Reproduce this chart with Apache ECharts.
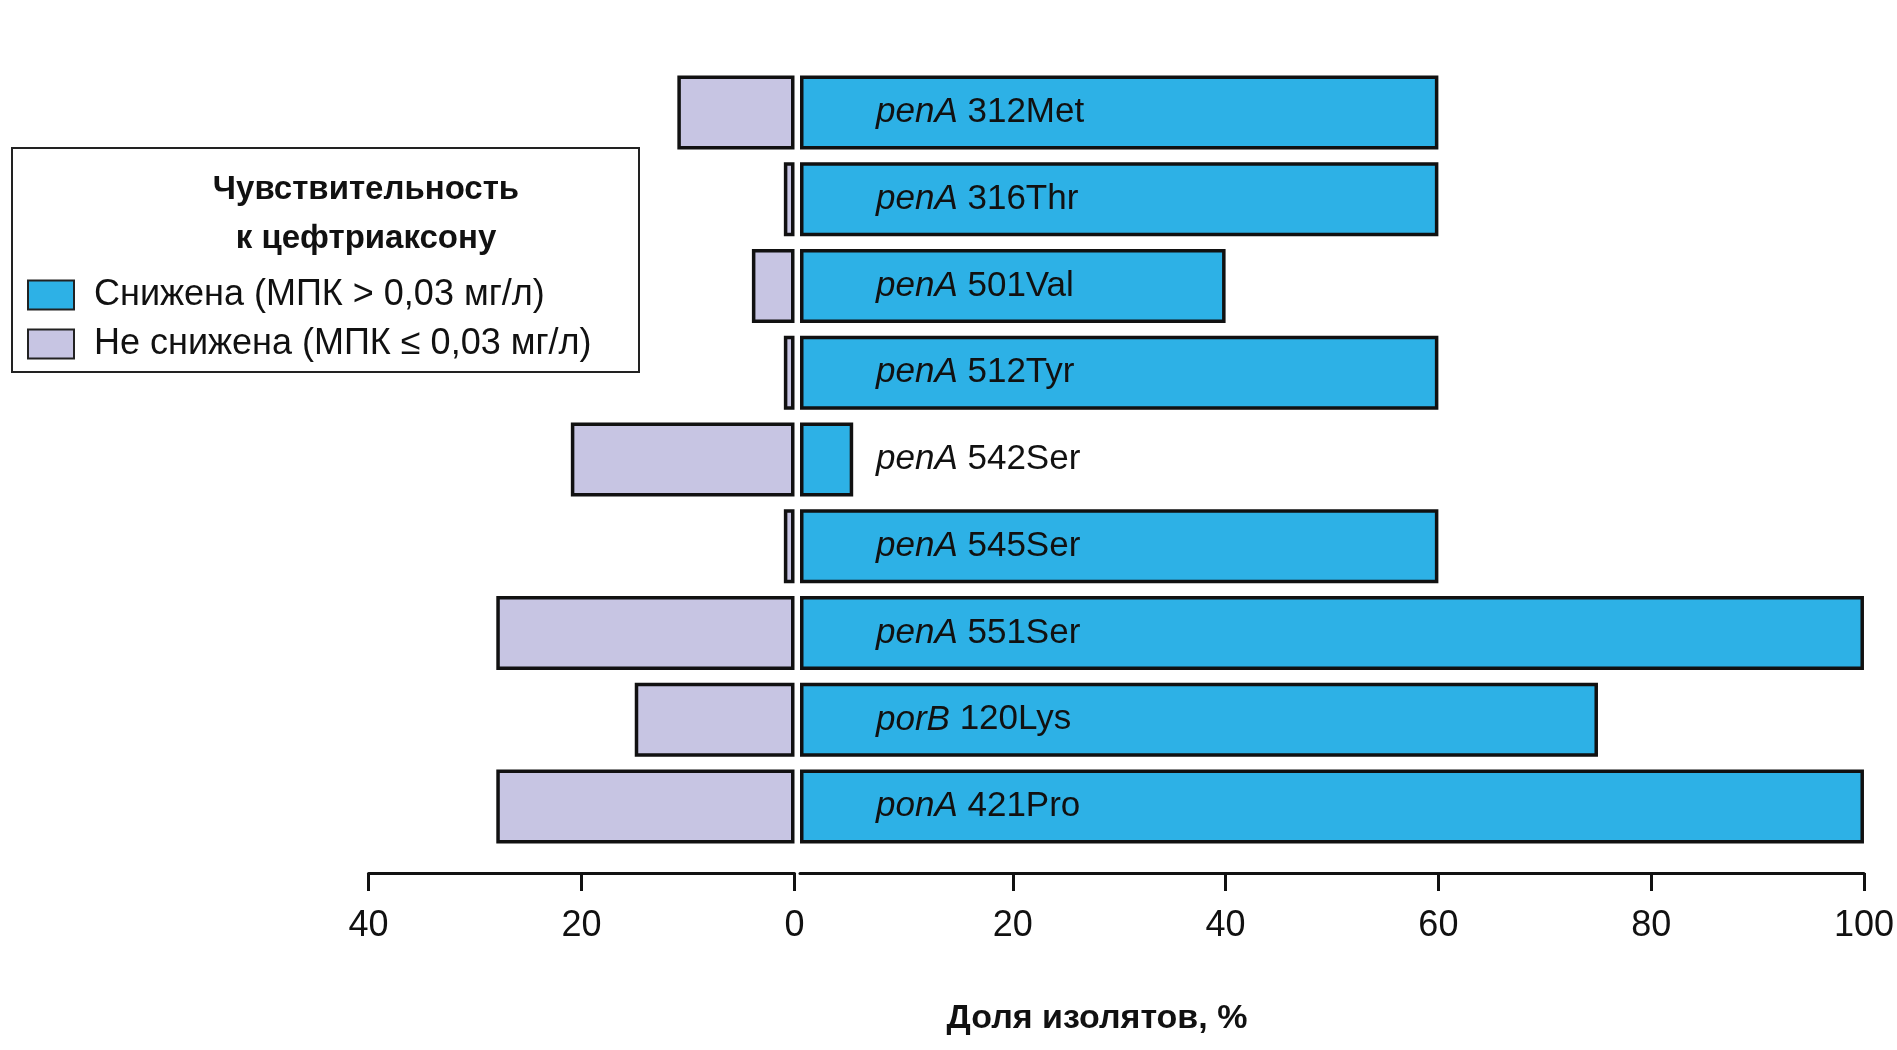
<!DOCTYPE html>
<html>
<head>
<meta charset="utf-8">
<script src="https://cdn.jsdelivr.net/npm/echarts@6/dist/echarts.min.js"></script>
<style>
html,body{margin:0;padding:0;background:#fff;}
#chart{width:1897px;height:1050px;}
</style>
</head>
<body>
<div id="chart"></div>
<script>
var genes = ['penA','penA','penA','penA','penA','penA','penA','porB','ponA'];
var mutations = ['312Met','316Thr','501Val','512Tyr','542Ser','545Ser','551Ser','120Lys','421Pro'];
var reduced = [60, 60, 40, 60, 5, 60, 100, 75, 100];
var notReduced = [11, 1, 4, 1, 21, 1, 28, 15, 28];
var leftTicks = ['40','20','0'];
var rightTicks = ['0','20','40','60','80','100'];

var categories = genes.map(function(g, i){ return g + ' ' + mutations[i]; });
var nameReduced = 'Снижена (МПК > 0,03 мг/л)';
var nameNot = 'Не снижена (МПК ≤ 0,03 мг/л)';
var legendTitle = ['Чувствительность', 'к цефтриаксону'];
var axisTitle = 'Доля изолятов, %';

var FONT = '"Liberation Sans", Arial, sans-serif';
var BLUE = '#2db1e6';
var GREY = '#c7c5e3';
var INK = '#111';

var chart = echarts.init(document.getElementById('chart'), null, {renderer:'canvas'});

function xAxisCommon(max, inverse) {
  return {
    type: 'value', min: 0, max: max, interval: 20, inverse: inverse,
    position: 'bottom', offset: 23,
    axisLine: {show: true, lineStyle: {color: INK, width: 3}},
    axisTick: {show: true, length: 18, lineStyle: {color: INK, width: 3}},
    splitLine: {show: false},
    axisLabel: {color: INK, fontSize: 36, fontFamily: FONT, margin: 35}
  };
}

var xl = xAxisCommon(40, true); xl.gridIndex = 0;
xl.axisLabel.formatter = function(v){ return leftTicks[leftTicks.indexOf(String(v))] || ''; };
var xr = xAxisCommon(100, false); xr.gridIndex = 1;
xr.axisLabel.showMinLabel = false;
xr.axisLabel.formatter = function(v){ return rightTicks[rightTicks.indexOf(String(v))] || ''; };

function yAxisCommon(idx) {
  return {
    type: 'category', gridIndex: idx, data: categories, inverse: true,
    axisLine: {show: false}, axisTick: {show: false}, axisLabel: {show: false}, splitLine: {show: false}
  };
}

var option = {
  backgroundColor: '#fff',
  animation: false,
  grid: [
    {left: 368.5, right: 1102.5, top: 69, bottom: 200, containLabel: false},
    {left: 800, right: 30.5, top: 69, bottom: 200, containLabel: false}
  ],
  xAxis: [xl, xr],
  yAxis: [yAxisCommon(0), yAxisCommon(1)],
  legend: {
    orient: 'vertical', left: 22, top: 272,
    itemWidth: 46, itemHeight: 29, itemGap: 13,
    icon: 'rect', selectedMode: false,
    data: [nameReduced, nameNot],
    itemStyle: {borderColor: '#222', borderWidth: 2},
    textStyle: {fontSize: 36, fontFamily: FONT, color: INK, padding: [0,0,0,15]}
  },
  graphic: [
    {type: 'rect', shape: {x: 12, y: 148, width: 627, height: 224},
     style: {fill: 'none', stroke: '#222', lineWidth: 2}, z: 1},
    {type: 'text', x: 366, y: 190, style: {text: legendTitle[0], textAlign: 'center', textVerticalAlign: 'middle',
      fontSize: 33, fontWeight: 'bold', fontFamily: FONT, fill: INK}},
    {type: 'text', x: 366, y: 239, style: {text: legendTitle[1], textAlign: 'center', textVerticalAlign: 'middle',
      fontSize: 33, fontWeight: 'bold', fontFamily: FONT, fill: INK}},
    {type: 'text', x: 1097, y: 1019, style: {text: axisTitle, textAlign: 'center', textVerticalAlign: 'middle',
      fontSize: 34, fontWeight: 'bold', fontFamily: FONT, fill: INK}}
  ],
  series: [
    {
      name: nameNot, type: 'bar', xAxisIndex: 0, yAxisIndex: 0,
      data: notReduced, barWidth: 74,
      itemStyle: {color: GREY, borderColor: INK, borderWidth: 3.5}
    },
    {
      name: nameReduced, type: 'bar', xAxisIndex: 1, yAxisIndex: 1,
      data: reduced, barWidth: 74,
      itemStyle: {color: BLUE, borderColor: INK, borderWidth: 3.5},
      label: {
        show: true, position: 'insideLeft', distance: 76,
        formatter: function(p){ return '{i|' + genes[p.dataIndex] + '} ' + mutations[p.dataIndex]; },
        color: INK, fontSize: 35, fontFamily: FONT,
        rich: {i: {fontStyle: 'italic', fontSize: 35, fontFamily: FONT, color: INK}}
      }
    }
  ]
};
chart.setOption(option);
</script>
</body>
</html>
